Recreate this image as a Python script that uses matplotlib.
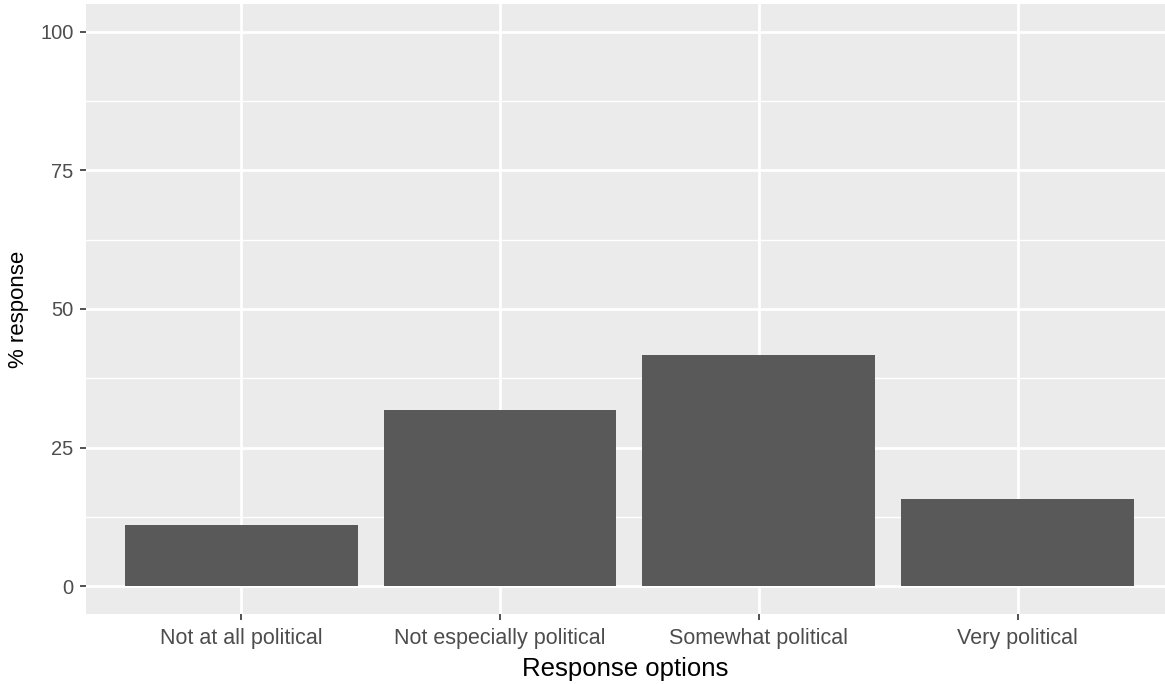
import numpy as np
import matplotlib.pyplot as plt

categories = ["Not at all political", "Not especially political", "Somewhat political", "Very political"]
pct_response = [11.0, 31.8, 41.7, 15.8]
y_ticks = [0, 25, 50, 75, 100]

plt.rcParams['font.family'] = ['Liberation Sans', 'DejaVu Sans']

fig = plt.figure(figsize=(11.65, 6.84), dpi=100)
ax = fig.add_axes([86 / 1165, 70 / 684, 1079 / 1165, 610 / 684])
ax.set_facecolor('#EBEBEB')

x = np.arange(1, len(categories) + 1)
ax.bar(x, pct_response, width=0.9, color='#595959', zorder=3)

ax.set_xlim(0.4, 4.57)
ax.set_ylim(-5, 105)

# ggplot-ish grid
for yv in np.arange(12.5, 105, 25):
    ax.axhline(yv, color='white', lw=1.0, zorder=1)
for yv in y_ticks:
    ax.axhline(yv, color='white', lw=2.0, zorder=2)
for xv in x:
    ax.axvline(xv, color='white', lw=2.0, zorder=2)

ax.set_xticks(x)
ax.set_xticklabels(categories)
ax.set_yticks(y_ticks)
ax.tick_params(axis='both', colors='#333333', labelcolor='#4D4D4D', length=4, width=1.2)
ax.tick_params(axis='x', labelsize=15.5, pad=6)
ax.tick_params(axis='y', labelsize=14.5, pad=5)
for s in ax.spines.values():
    s.set_visible(False)

ax.set_xlabel("Response options", fontsize=18.5, color='black', labelpad=6)
ax.set_ylabel("% response", fontsize=16, color='black', labelpad=8)

fig.savefig('out.png', dpi=100)
